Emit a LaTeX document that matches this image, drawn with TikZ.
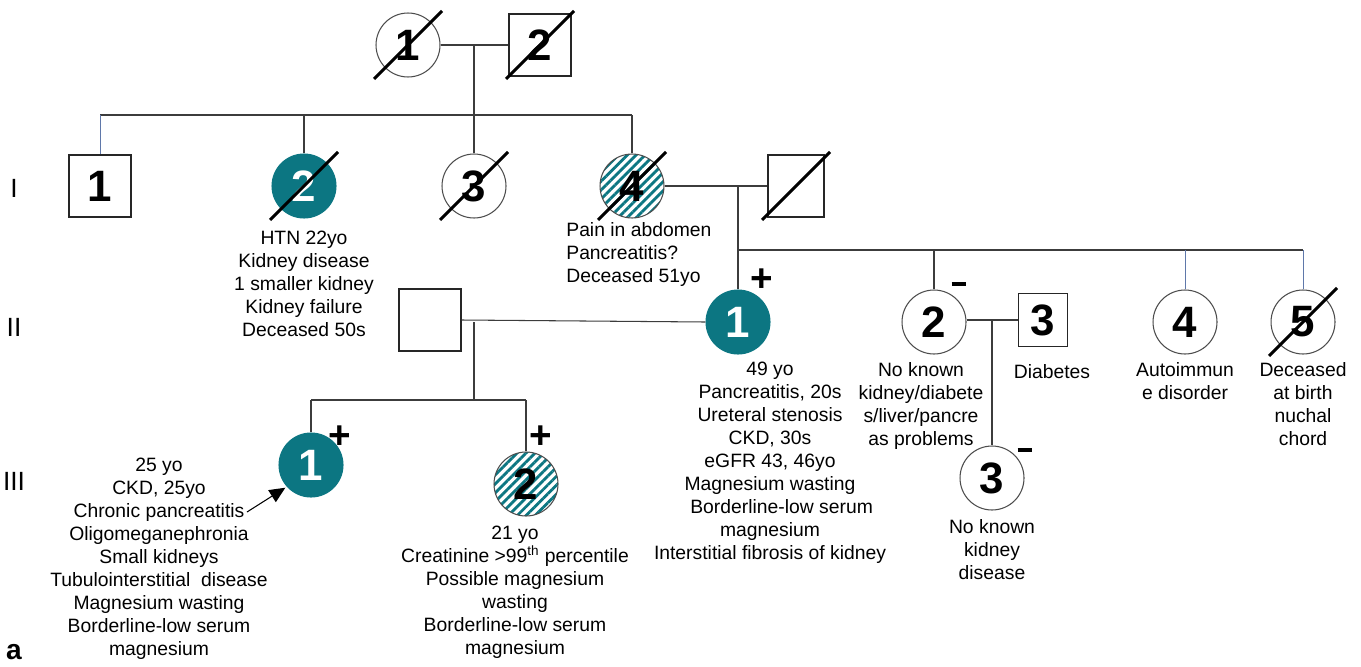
\documentclass[tikz,border=0pt]{standalone}
\usepackage{fontspec}
\setmainfont{Liberation Sans}
\usetikzlibrary{arrows.meta,positioning,patterns.meta}
\definecolor{pedteal}{RGB}{12,118,130}
\definecolor{pedline}{RGB}{60,60,60}
\definecolor{pedblue}{RGB}{95,120,170}
\newcommand{\strike}[1]{\draw[slashline] ([shift={(-34,34)}]#1.center) -- ([shift={(34,-34)}]#1.center);}

\begin{document}
\begin{tikzpicture}[x=0.02cm, y=-0.02cm,
    female/.style={circle, draw=black!70, line width=0.6pt, minimum size=1.28cm, inner sep=0pt, font=\fontsize{25}{25}\selectfont\bfseries},
    male/.style={rectangle, draw=black!85, line width=0.6pt, minimum size=1.24cm, inner sep=0pt, font=\fontsize{25}{25}\selectfont\bfseries},
    affected/.style={fill=pedteal, draw=pedteal, text=white},
    carrier/.style={pattern={Lines[angle=45, distance=3.6pt, line width=1.6pt]}, pattern color=pedteal},
    note/.style={align=center, inner sep=0pt, font=\fontsize{11}{13.1}\selectfont},
    sign/.style={inner sep=0pt, font=\fontsize{22}{22}\selectfont\bfseries},
    gen/.style={inner sep=0pt, font=\fontsize{15}{15}\selectfont},
    link/.style={draw=pedline, line width=0.6pt},
    bluelink/.style={draw=pedblue, line width=0.5pt},
    slashline/.style={draw=black, line width=1.7pt},
    pointer/.style={-{Triangle[length=9pt, width=8pt]}, line width=0.6pt, shorten >=1pt}
  ]
  \useasboundingbox (0,0) rectangle (1361,666);

  % grandparents
  \node[female] (G1) at (408,45) {1};
  \node[male] (G2) at (540,45) {2};
  \strike{G1} \strike{G2}
  \coordinate (m0) at (474,45);
  \coordinate (s0) at (474,115);
  \draw[link] (G1.east) -- (G2.west);
  \draw[link] (m0) -- (s0);

  % generation I
  \node[male] (I1) at (100,186) {1};
  \node[female, affected] (I2) at (304,186) {2};
  \node[female] (I3) at (474,186) {3};
  \node[female, carrier] (I4) at (632,186) {4};
  \node[male, minimum width=1.12cm] (Isp) at (796,186) {};
  \strike{I2} \strike{I3} \strike{I4} \strike{Isp}
  \draw[link] (s0 -| I1) -- (s0 -| I4);
  \draw[bluelink] (s0 -| I1) -- (I1.north);
  \foreach \n in {I2,I3,I4}
    \draw[link] (s0 -| \n) -- (\n.north);

  \node[note, anchor=north] (nI2) at (304,231) {HTN 22yo\\Kidney disease\\1 smaller kidney\\Kidney failure\\Deceased 50s};
  \node[note, anchor=north west, align=left] (nI4) at (566,222) {Pain in abdomen\\Pancreatitis?\\Deceased 51yo};

  % generation II
  \coordinate (m1) at (738,186);
  \coordinate (s1) at (738,250);
  \node[male] (IIsp) at (430,320) {};
  \node[female, affected] (II1) at (738,322) {1};
  \node[female] (II2) at (934,322) {2};
  \node[male, minimum width=0.98cm, minimum height=1.06cm] (II3) at (1043,320) {3};
  \node[female] (II4) at (1185,322) {4};
  \node[female] (II5) at (1303,322) {5};
  \strike{II5}
  \draw[link] (I4.east) -- (Isp.west);
  \draw[link] (m1) -- (s1) -- (II1.north);
  \draw[link] (s1) -- (s1 -| II5);
  \draw[link] (s1 -| II2) -- (II2.north);
  \foreach \n in {II4,II5}
    \draw[bluelink] (s1 -| \n) -- (\n.north);
  \node[sign] (pII1) at (762,280) {+};
  \node[sign] (mII2) at (959,284) {\rule{8.5pt}{2.6pt}};

  \node[note, anchor=north] (nII1) at (770,362) {49 yo\\Pancreatitis, 20s\\Ureteral stenosis\\CKD, 30s\\eGFR 43, 46yo\\Magnesium wasting\\\hspace*{1.2em}Borderline-low serum\\magnesium\\Interstitial fibrosis of kidney};
  \node[note, anchor=north] (nII2) at (921,362) {No known\\kidney/diabete\\s/liver/pancre\\as problems};
  \node[note, anchor=north] (nII3) at (1052,364) {Diabetes};
  \node[note, anchor=north] (nII4) at (1185,362) {Autoimmun\\e disorder};
  \node[note, anchor=north] (nII5) at (1303,362) {Deceased\\at birth\\nuchal\\chord};

  % generation III
  \coordinate (m2) at (474,322);
  \coordinate (s2) at (474,400);
  \coordinate (m3) at (992,320);
  \node[female, affected] (III1) at (311,465) {1};
  \node[female, carrier] (III2) at (526,484) {2};
  \node[female] (III3) at (992,478) {3};
  \draw[link] (IIsp.east) -- (II1.west);
  \draw[link] (m2) -- (s2);
  \draw[link] (s2 -| III1) -- (s2 -| III2);
  \foreach \n in {III1,III2}
    \draw[link] (s2 -| \n) -- (\n.north);
  \draw[link] (II2.east |- II3.west) -- (II3.west);
  \draw[link] (m3) -- (III3.north);
  \node[sign] (pIII1) at (340,437) {+};
  \node[sign] (pIII2) at (541,437) {+};
  \node[sign] (mIII3) at (1025,450) {\rule{8.5pt}{2.6pt}};

  \node[note, anchor=north] (nIII1) at (159,458) {25 yo\\CKD, 25yo\\Chronic pancreatitis\\Oligomeganephronia\\Small kidneys\\Tubulointerstitial\ \ disease\\Magnesium wasting\\Borderline-low serum\\magnesium};
  \coordinate (arw) at (247,512);
  \draw[pointer] (arw) -- (III1.222);
  \node[note, anchor=north] (nIII2) at (515,526) {21 yo\\Creatinine >99\textsuperscript{th} percentile\\Possible magnesium\\wasting\\Borderline-low serum\\magnesium};
  \node[note, anchor=north] (nIII3) at (992,519) {No known\\kidney\\disease};

  % generation labels
  \node[gen] (gI) at (14,188) {I};
  \node[gen] (gII) at (14,327) {II};
  \node[gen] (gIII) at (14,481) {III};
  \node[gen, font=\fontsize{16}{16}\selectfont\bfseries] (panel) at (14,652) {a};
\end{tikzpicture}
\end{document}
